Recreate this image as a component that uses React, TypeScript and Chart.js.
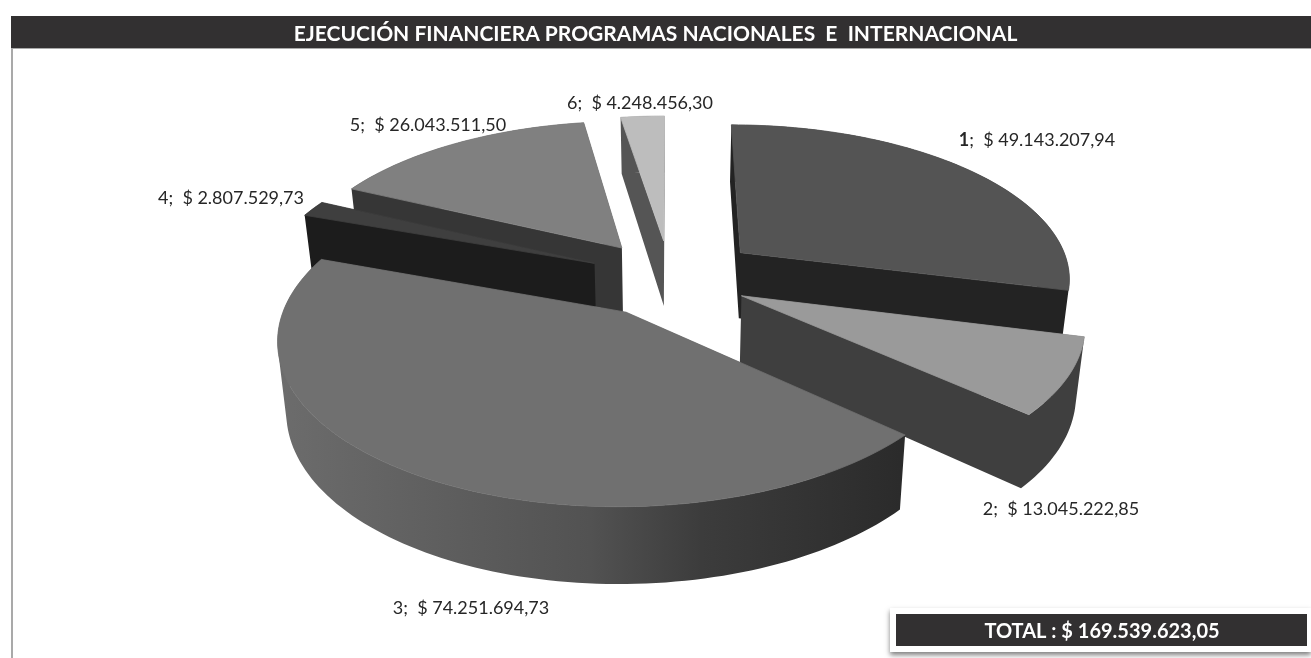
import React, { useEffect, useRef } from "react";
import { Chart, registerables } from "chart.js";

Chart.register(...registerables);

const programas = ["1", "2", "3", "4", "5", "6"];
const ejecucion = [49143207.94, 13045222.85, 74251694.73, 2807529.73, 26043511.5, 4248456.3];
const montos = ["$ 49.143.207,94", "$ 13.045.222,85", "$ 74.251.694,73", "$ 2.807.529,73", "$ 26.043.511,50", "$ 4.248.456,30"];
const titulo = "EJECUCIÓN FINANCIERA PROGRAMAS NACIONALES  E  INTERNACIONAL";
const totalTexto = "TOTAL : $ 169.539.623,05";

const topColors = ["#545454", "#9a9a9a", "#707070", "#3f3f3f", "#808080", "#bdbdbd"];
const wallColors = ["#232323", "#3f3f3f", "", "#1c1c1c", "#363636", "#555555"];
const labelCenters: [number, number][] = [[1037, 140], [1061, 509], [471, 608], [231, 198], [428, 125], [640, 103]];
const explosion = [0.275, 0.24, 0.25, 0.25, 0.25, 0.25];

const FONT = "Lato, 'Open Sans', sans-serif";
const cam = { cx: 670, cy: 278, A: 332, B: 154, px: 0.15, py: 0.15, depth: 67, depthV: 8.5, shrink: 0.022 };

type Pt = [number, number];

function project(u: number, v: number, bottom: boolean): Pt {
  let x = cam.cx + (cam.A * u) / (1 - cam.px * v);
  let y = cam.cy + (cam.B * v) / (1 - cam.py * v);
  if (bottom) {
    x = cam.cx + (x - cam.cx) * (1 - cam.shrink);
    y += cam.depth + cam.depthV * v;
  }
  return [x, y];
}

function signedArea(pts: Pt[]) {
  let s = 0;
  pts.forEach((p, k) => {
    const q = pts[(k + 1) % pts.length];
    s += p[0] * q[1] - q[0] * p[1];
  });
  return s;
}

const pie3d = {
  id: "pie3d",
  beforeDatasetsDraw(chart: any) {
    const ctx: CanvasRenderingContext2D = chart.ctx;
    const arcs = chart.getDatasetMeta(0).data;
    const order = arcs
      .map((a: any, i: number) => ({ i, v: Math.sin((a.startAngle + a.endAngle) / 2) }))
      .sort((p: any, q: any) => p.v - q.v);
    const wallGrad = ctx.createLinearGradient(280, 0, 900, 0);
    wallGrad.addColorStop(0, "#6c6c6c");
    wallGrad.addColorStop(0.5, "#525252");
    wallGrad.addColorStop(0.68, "#3c3c3c");
    wallGrad.addColorStop(1, "#2b2b2b");

    // all pieces go into one path, wound the same way, so no seams appear between them
    const fillAll = (polys: Pt[][], fill: any, edge = 0) => {
      ctx.beginPath();
      for (const raw of polys) {
        const pts = signedArea(raw) < 0 ? raw.slice().reverse() : raw;
        pts.forEach((p, k) => (k ? ctx.lineTo(p[0], p[1]) : ctx.moveTo(p[0], p[1])));
        ctx.closePath();
      }
      ctx.fillStyle = fill;
      ctx.fill();
      if (edge) {
        ctx.strokeStyle = fill;
        ctx.lineWidth = edge;
        ctx.lineJoin = "round";
        ctx.stroke();
      }
    };

    for (const { i } of order) {
      const a = arcs[i];
      const mid = (a.startAngle + a.endAngle) / 2;
      const u0 = explosion[i] * Math.cos(mid);
      const v0 = explosion[i] * Math.sin(mid);
      const steps = Math.max(4, Math.ceil((a.endAngle - a.startAngle) * 40));
      const rim: Pt[] = [];
      for (let k = 0; k <= steps; k++) {
        const t = a.startAngle + ((a.endAngle - a.startAngle) * k) / steps;
        rim.push([u0 + Math.cos(t), v0 + Math.sin(t)]);
      }
      const wall = wallColors[i] || wallGrad;
      const top = rim.map((p) => project(p[0], p[1], false));
      const low = rim.map((p) => project(p[0], p[1], true));
      const apexT = project(u0, v0, false);
      const apexB = project(u0, v0, true);
      const quads: Pt[][] = [];
      for (let k = 0; k < steps; k++) quads.push([top[k], top[k + 1], low[k + 1], low[k]]);
      quads.push([apexT, top[0], low[0], apexB]);
      quads.push([apexT, top[top.length - 1], low[low.length - 1], apexB]);
      fillAll(quads, wall);
      fillAll([[apexT, ...top]], topColors[i], 0.8);
    }
    return false;
  },
  afterDraw(chart: any) {
    const ctx: CanvasRenderingContext2D = chart.ctx;
    ctx.save();
    ctx.textBaseline = "middle";
    ctx.fillStyle = "#262626";
    programas.forEach((p, i) => {
      const plain = ";  " + montos[i];
      ctx.font = (i === 0 ? "bold " : "") + "18px " + FONT;
      const w1 = ctx.measureText(p).width;
      const f1 = ctx.font;
      ctx.font = "18px " + FONT;
      const w2 = ctx.measureText(plain).width;
      const x = labelCenters[i][0] - (w1 + w2) / 2;
      const y = labelCenters[i][1];
      ctx.textAlign = "left";
      ctx.fillText(plain, x + w1, y);
      ctx.font = f1;
      ctx.fillText(p, x, y);
    });
    // caja del total
    ctx.shadowColor = "rgba(0,0,0,0.5)";
    ctx.shadowBlur = 5;
    ctx.shadowOffsetY = 3;
    ctx.fillStyle = "#ffffff";
    ctx.fillRect(890, 608, 421, 44);
    ctx.shadowColor = "transparent";
    ctx.fillStyle = "#323031";
    ctx.fillRect(896, 614, 411, 32);
    ctx.fillStyle = "#ffffff";
    ctx.font = "bold 20px " + FONT;
    ctx.textAlign = "center";
    ctx.fillText(totalTexto, 1102, 632);
    ctx.restore();
  },
  beforeDraw(chart: any) {
    const ctx: CanvasRenderingContext2D = chart.ctx;
    ctx.save();
    ctx.fillStyle = "#ffffff";
    ctx.fillRect(0, 0, 1311, 658);
    ctx.fillStyle = "#a9a9a9";
    ctx.fillRect(11, 47, 1300, 2);
    ctx.fillRect(11, 47, 2, 611);
    ctx.fillStyle = "#323031";
    ctx.fillRect(11, 16, 1300, 32);
    ctx.restore();
  },
};

export default function App() {
  const ref = useRef<HTMLCanvasElement>(null);
  useEffect(() => {
    document.body.style.margin = "0";
    const chart = new Chart(ref.current!, {
      type: "pie",
      data: {
        labels: programas,
        datasets: [{ data: ejecucion, backgroundColor: topColors, borderWidth: 0 }],
      },
      options: {
        responsive: false,
        animation: false,
        rotation: 0,
        layout: { padding: 0 },
        plugins: {
          legend: { display: false },
          tooltip: { enabled: false },
          title: {
            display: true,
            text: titulo,
            color: "#ffffff",
            align: "center",
            font: { family: FONT, size: 21, weight: "bold" },
            padding: { top: 22, bottom: 0 },
          },
        },
      },
      plugins: [pie3d],
    } as any);
    return () => chart.destroy();
  }, []);
  return <canvas ref={ref} width={1311} height={658} style={{ display: "block" }} />;
}
